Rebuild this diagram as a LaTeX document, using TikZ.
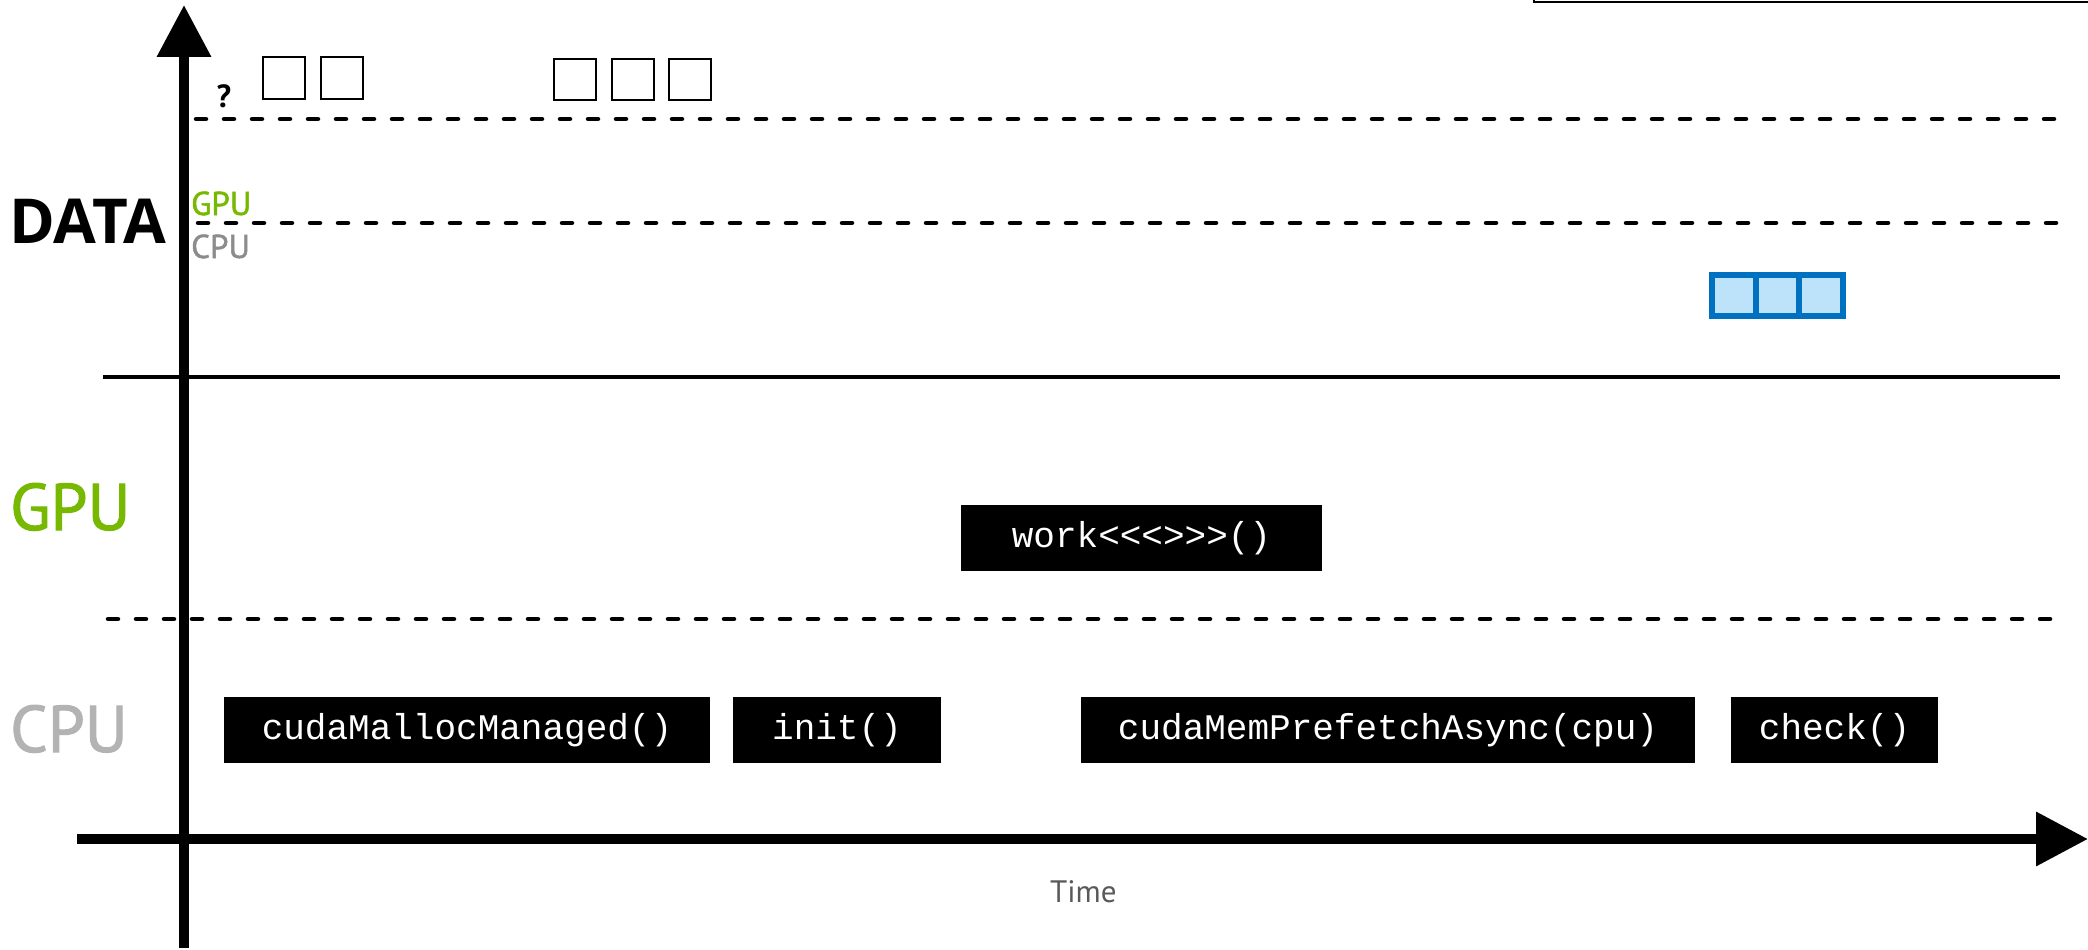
\documentclass[tikz,border=0pt]{standalone}
\usepackage{fontspec}
\setmainfont{PT Sans}
\setmonofont{Liberation Mono}
\newfontfamily\datafont{Open Sans}
\newfontfamily\lblfont[FakeBold=1.5]{PT Sans}
\usetikzlibrary{arrows.meta}
\definecolor{nvgreen}{HTML}{76B900}
\definecolor{lgray}{HTML}{B3B3B3}
\definecolor{mgray}{HTML}{8C8C8C}
\definecolor{tgray}{HTML}{595959}
\definecolor{bfill}{HTML}{BDE3FB}
\definecolor{bdraw}{HTML}{0070C0}
\newcommand{\fsz}[1]{\fontsize{#1}{#1}\selectfont}
\begin{document}
\begin{tikzpicture}[x=1pt,y=-1pt,
  call/.style={fill=black,text=white,font=\ttfamily\fsz{36},inner sep=0pt,minimum height=66pt},
  cell/.style={draw=black,line width=2pt,fill=white,minimum width=42pt,minimum height=41pt,inner sep=0pt},
  bcell/.style={draw=bdraw,fill=bfill,line width=6pt,minimum width=43.7pt,minimum height=41pt,inner sep=0pt},
  sep/.style={line width=4.5pt,line cap=round,dash pattern=on 10pt off 18pt},
  axis/.style={line width=10pt,-{Triangle[length=52pt,width=52pt]}},
  lbl/.style={inner sep=0pt,anchor=base west},
]
\useasboundingbox (0,0) rectangle (2088,950);
\begin{scope}
\clip (0,0) rectangle (2088,950);
\draw[line width=2pt] (1534,-20) rectangle (2110,2);
\end{scope}

% separators
\draw[sep] (196,119) -- (2059,119);
\draw[sep] (198,223) -- (2059,223);
\draw[line width=3.5pt] (103,377) -- (2060,377);
\draw[sep] (108,619) -- (2055,619);

% axes
\draw[axis] (184,948) -- (184,5);
\draw[axis] (77,839) -- (2088,839);

% labels
\node[lbl,font=\datafont\bfseries\fsz{62}] (data) at (9,243) {DATA};
\node[lbl,font=\lblfont\fsz{66},text=nvgreen] (gpu) at (10,530) {GPU};
\node[lbl,font=\lblfont\fsz{66},text=lgray] (cpu) at (10,752) {CPU};
\node[lbl,font=\lblfont\fsz{33},text=nvgreen] (gpus) at (191,215) {GPU};
\node[lbl,font=\lblfont\fsz{33},text=mgray] (cpus) at (191,258) {CPU};
\node[inner sep=0pt,anchor=base,font=\bfseries\fsz{32}] (q) at (224,107) {?};
\node[lbl,font=\fsz{31},text=tgray] (time) at (1050,902) {Time};

% data cells
\node[cell] (b1) at (283.5,78) {};
\node[cell] (b2) at (342,78) {};
\node[cell] (b3) at (574.5,79.5) {};
\node[cell] (b4) at (633,79.5) {};
\node[cell] (b5) at (690,79.5) {};

\node[bcell] (c1) at (1733.8,295.5) {};
\node[bcell] (c2) at (1777.5,295.5) {};
\node[bcell] (c3) at (1821.2,295.5) {};

% calls
\node[call,minimum width=486pt] (malloc) at (467,730) {cudaMallocManaged()};
\node[call,minimum width=208pt] (init) at (837,730) {init()};
\node[call,minimum width=361pt] (work) at (1141.5,538) {work<<<>>>()};
\node[call,minimum width=614pt] (prefetch) at (1388,730) {cudaMemPrefetchAsync(cpu)};
\node[call,minimum width=207pt] (check) at (1834.5,730) {check()};
\end{tikzpicture}
\end{document}
